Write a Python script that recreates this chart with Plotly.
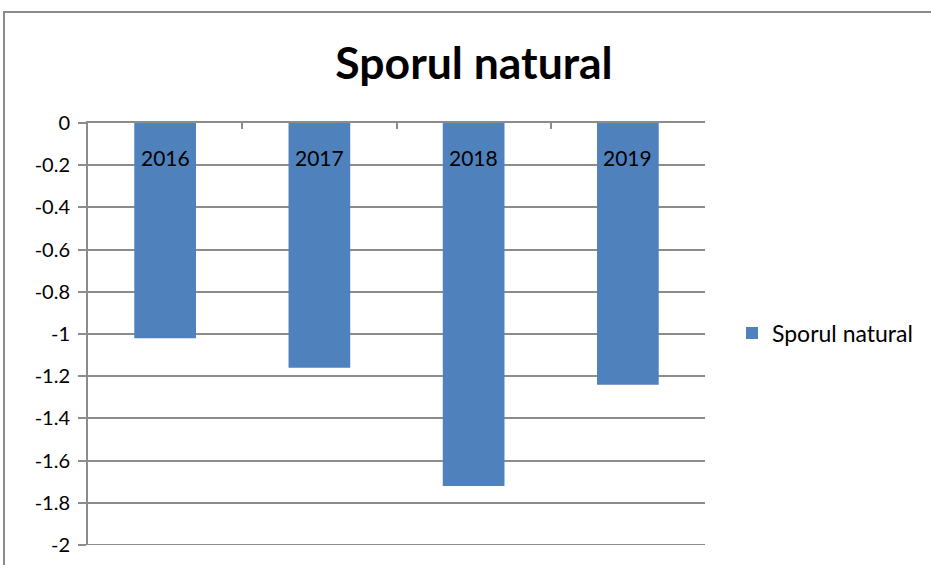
import plotly.graph_objects as go

years = ["2016", "2017", "2018", "2019"]
values = [-1.02, -1.16, -1.72, -1.24]
series_name = "Sporul natural"
title_text = "Sporul natural"
y_ticks = [0, -0.2, -0.4, -0.6, -0.8, -1, -1.2, -1.4, -1.6, -1.8, -2]
y_tick_labels = ["0", "-0.2", "-0.4", "-0.6", "-0.8", "-1", "-1.2", "-1.4", "-1.6", "-1.8", "-2"]

FONT = "Lato, Liberation Sans, sans-serif"
GRID = "#8c8c8c"

L, R, T, B = 88, 226, 123, 20
W, H = 931, 565
pw, ph = W - L - R, H - T - B

def px_x(p):
    return (p - L) / pw

def px_y(p):
    return (H - B - p) / ph

fig = go.Figure()
fig.add_trace(go.Bar(
    x=years, y=values, name=series_name,
    marker=dict(color="#4F81BD", line=dict(width=0)),
    width=0.4, showlegend=True,
))

fig.update_layout(
    width=W, height=H,
    margin=dict(l=L, r=R, t=T, b=B, autoexpand=False),
    paper_bgcolor="white", plot_bgcolor="white",
    font=dict(family=FONT, color="#000000", size=20),
    title=dict(text="<b>" + title_text + "</b>", xref="container", x=474 / W, xanchor="center",
               yref="container", y=1 - 63 / H, yanchor="middle",
               font=dict(family=FONT, size=44.5, color="#000000")),
    showlegend=True,
    legend=dict(x=px_x(732), y=px_y(333), xanchor="left", yanchor="middle",
                font=dict(family=FONT, size=23, color="#000000"),
                itemwidth=30, bgcolor="rgba(0,0,0,0)"),
)

fig.update_xaxes(
    type="category", side="top", showline=True, linecolor=GRID, linewidth=2,
    ticks="inside", ticklen=6, tickcolor=GRID, tickwidth=1.5, tickson="boundaries",
    showticklabels=False,
    showgrid=False, zeroline=False,
    range=[-0.5, 3.5],
)
fig.update_yaxes(
    range=[-2, 0], tickvals=y_ticks, ticktext=y_tick_labels,
    showgrid=True, gridcolor=GRID, gridwidth=2,
    showline=True, linecolor=GRID, linewidth=2,
    ticks="outside", ticklen=8, tickcolor=GRID, tickwidth=2,
    zeroline=False, ticklabelstandoff=4,
    tickfont=dict(family=FONT, size=20, color="#000000"),
)

# bottom gridline at the lowest tick (plotly skips the edge gridline)
fig.add_shape(type="line", xref="paper", yref="y", x0=0, x1=1,
              y0=y_ticks[-1], y1=y_ticks[-1], line=dict(color=GRID, width=2))

# category labels drawn just below the top (zero) axis line
for i, yr in enumerate(years):
    fig.add_annotation(x=i, xref="x", y=1, yref="paper", yanchor="middle",
                       yshift=-34, text=yr, showarrow=False,
                       font=dict(family=FONT, size=21, color="#000000"))

# outer chart frame (extends beyond the visible page)
fig.add_shape(type="rect", xref="paper", yref="paper",
              x0=px_x(4), x1=px_x(1200), y0=px_y(800), y1=px_y(12),
              line=dict(color="#8c8c8c", width=2), fillcolor="rgba(0,0,0,0)",
              layer="below")

fig.write_html("out.html", config={"displayModeBar": False},
               post_script="document.body.style.margin='0';document.body.style.overflow='hidden';")
